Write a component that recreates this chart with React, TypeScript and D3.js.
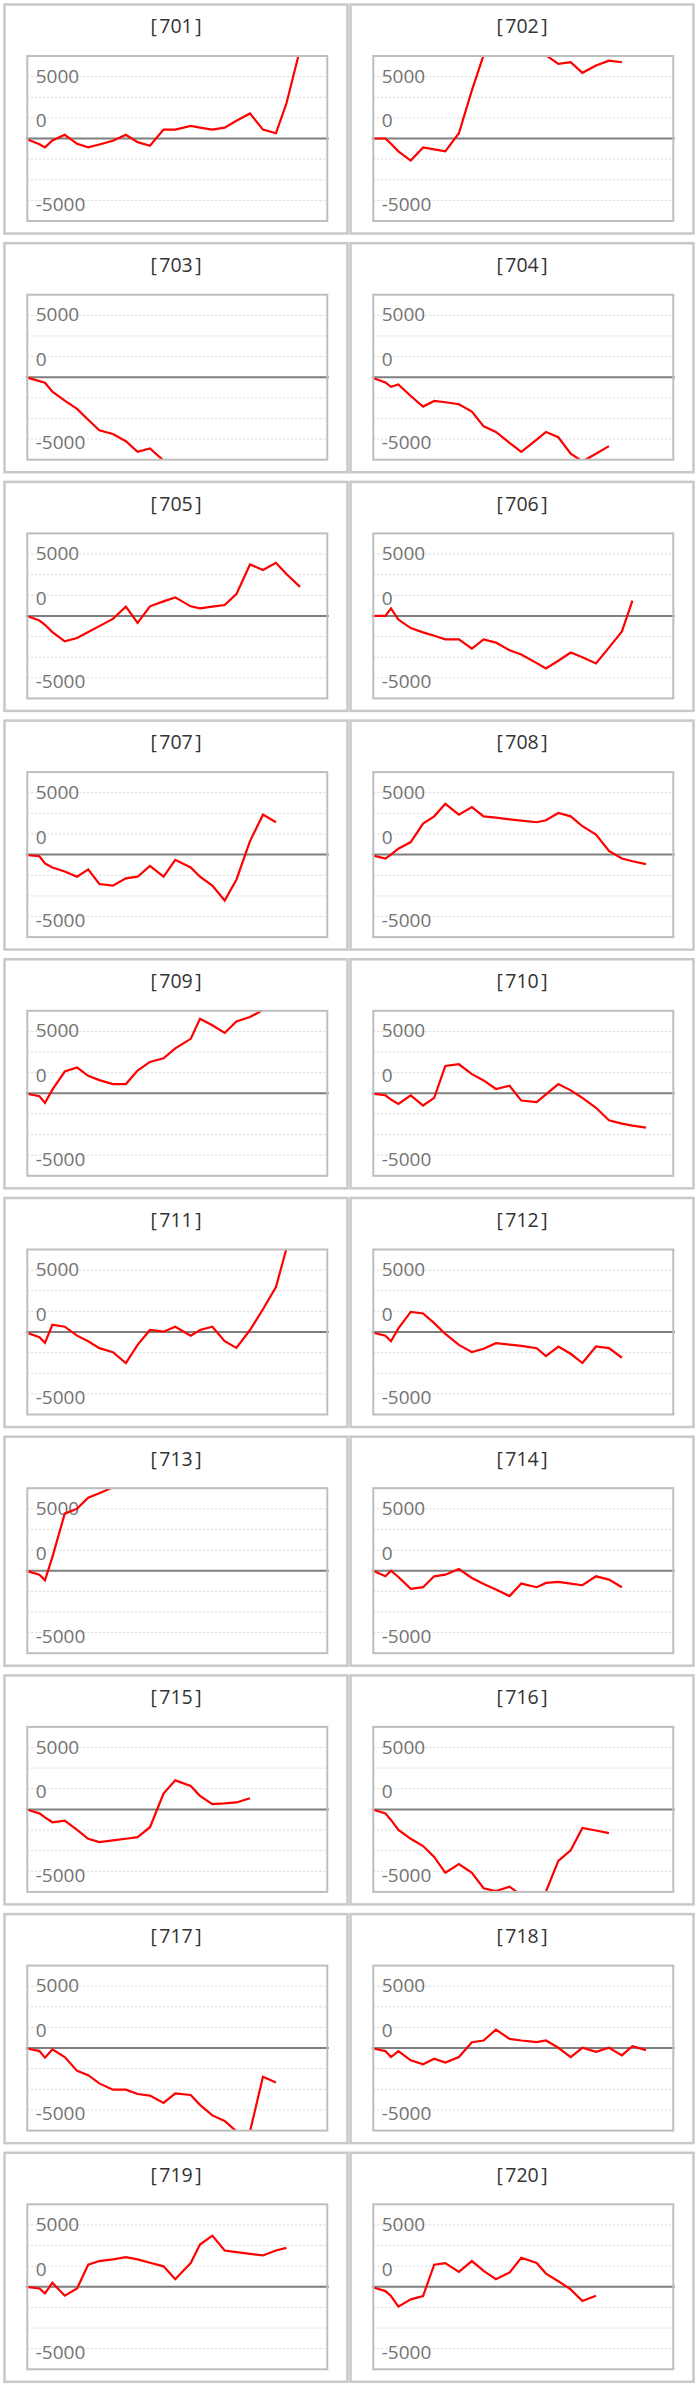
import React from "react";
import * as d3 from "d3";

// ---- data ----
const panelIds = [
  "701", "702", "703", "704", "705", "706", "707", "708", "709", "710",
  "711", "712", "713", "714", "715", "716", "717", "718", "719", "720",
];

// shared x positions of the observations (irregular spacing)
const xPoints = [
  0, 0.9, 1.35, 1.95, 2.95, 3.95, 4.85, 5.75, 6.85, 7.9, 8.85, 9.85,
  10.95, 11.9, 13.15, 13.9, 14.9, 15.9, 16.85, 17.95, 19, 20.05, 20.9, 22,
];

const s701 = [-160, -700, -1080, -240, 440, -640, -1080, -720, -280, 440, -440, -880, 1080, 1080, 1520, 1320, 1080, 1320, 2160, 3040, 1080, 640, 4240, 10800];
const s702 = [0, 0, -640, -1560, -2680, -1080, -1320, -1560, 640, 5840, 10100, 12000, 13500, 13000, 11500, 10100, 9040, 9240, 7960, 8840, 9440, 9240];
const s703 = [-80, -480, -680, -1760, -2840, -3840, -5160, -6440, -6880, -7760, -9040, -8640, -10100];
const s704 = [-160, -640, -1160, -880, -2280, -3560, -2880, -3040, -3280, -4160, -5960, -6640, -7960, -9040, -7560, -6640, -7280, -9280, -10200, -9280, -8360];
const s705 = [-80, -560, -1080, -1960, -3080, -2680, -1960, -1240, -360, 1120, -840, 1160, 1760, 2240, 1160, 920, 1120, 1320, 2640, 6240, 5560, 6440, 5080, 3520];
const s706 = [0, 0, 920, -440, -1480, -2000, -2400, -2840, -2840, -3960, -2840, -3240, -4160, -4680, -5720, -6360, -5440, -4440, -5000, -5760, -3840, -1880, 1840];
const s707 = [-80, -200, -1080, -1560, -2040, -2680, -1800, -3560, -3760, -2880, -2680, -1360, -2680, -640, -1560, -2680, -3760, -5560, -3040, 1640, 4840, 3920];
const s708 = [-160, -480, 0, 720, 1520, 3760, 4640, 6160, 4840, 5760, 4640, 4480, 4280, 4120, 3920, 4160, 5040, 4640, 3440, 2440, 440, -480, -800, -1160];
const s709 = [-80, -360, -1160, 440, 2640, 3120, 2120, 1600, 1120, 1120, 2760, 3800, 4240, 5440, 6600, 9040, 8240, 7320, 8720, 9240, 10100, 12000];
const s710 = [-80, -240, -760, -1280, -240, -1480, -560, 3320, 3520, 2320, 1560, 520, 920, -880, -1080, -120, 1120, 360, -560, -1760, -3280, -3680, -3920, -4160];
const s711 = [-160, -640, -1320, 880, 640, -440, -1120, -1960, -2440, -3760, -1560, 240, 40, 640, -440, 240, 640, -1120, -1920, 240, 2760, 5440, 10100, 14000];
const s712 = [-120, -440, -1120, 440, 2440, 2240, 1080, -240, -1560, -2440, -2040, -1360, -1520, -1680, -1960, -2920, -1760, -2640, -3760, -1760, -1960, -3120];
const s713 = [-80, -480, -1160, 1640, 6920, 7520, 8840, 9400, 10100, 11000];
const s714 = [-80, -680, 0, -760, -2200, -2000, -680, -480, 200, -880, -1600, -2280, -3080, -1560, -2000, -1480, -1360, -1560, -1760, -680, -1080, -2000];
const s715 = [-80, -480, -960, -1560, -1360, -2480, -3560, -3960, -3760, -3560, -3360, -2160, 1920, 3520, 2840, 1640, 640, 720, 840, 1360];
const s716 = [-80, -480, -1280, -2480, -3560, -4440, -5760, -7680, -6640, -7680, -9560, -9900, -9360, -10400, -10800, -9950, -6240, -4960, -2240, -2560, -2880];
const s717 = [-80, -360, -1160, -160, -1080, -2760, -3280, -4280, -5040, -5040, -5560, -5760, -6640, -5480, -5680, -6880, -8160, -8840, -10100, -10100, -3480, -4160];
const s718 = [-80, -360, -1080, -360, -1480, -1960, -1280, -1760, -1080, 720, 920, 2240, 1120, 920, 720, 920, 40, -1080, 40, -440, 40, -880, 240, -240];
const s719 = [-40, -200, -800, 480, -1080, -200, 2680, 3120, 3320, 3600, 3320, 2920, 2480, 920, 2880, 5120, 6200, 4400, 4200, 4000, 3800, 4400, 4720];
const s720 = [-120, -520, -1120, -2400, -1520, -1120, 2680, 2880, 1800, 3120, 1920, 920, 1720, 3520, 2880, 1600, 680, -320, -1720, -1080];

const seriesList = [
  s701, s702, s703, s704, s705, s706, s707, s708, s709, s710,
  s711, s712, s713, s714, s715, s716, s717, s718, s719, s720,
];

const yDomain = [-10000, 10000];
const xDomain = [0, 24.29];
const gridValues = [7500, 5000, 2500, -2500, -5000, -7500];
const yTickLabels = ["5000", "0", "-5000"];
const yTickAt = [7500, 2500, -7500];

// ---- layout ----
const W = 699;
const H = 2387;
const COL_X = [4.5, 350.5];
const ROW_Y0 = 4.5;
const ROW_PITCH = 238.7;
const PANEL_W = 343;
const PANEL_H = 229;
const BOX_DX = 22.8;
const BOX_DY = 51.5;
const BOX_W = 300;
const BOX_H = 165;
const LABEL_DY = [6, 9.6, 10.4];
const FONT = "'Open Sans', 'Noto Sans', sans-serif";

function Panel({ idx }: { idx: number }) {
  const col = idx % 2;
  const row = Math.floor(idx / 2);
  const px = COL_X[col];
  const py = ROW_Y0 + row * ROW_PITCH;
  const bx = px + BOX_DX;
  const by = py + BOX_DY;

  const x = d3.scaleLinear().domain(xDomain).range([bx + 1, bx + 1 + BOX_W]);
  const y = d3.scaleLinear().domain(yDomain).range([by + BOX_H, by]);
  const values = seriesList[idx];
  const pts = values.map((v, i) => [xPoints[i], v] as [number, number]);
  const line = d3
    .line<[number, number]>()
    .x((d) => x(d[0]))
    .y((d) => y(d[1]));
  const clipId = `clip-${panelIds[idx]}`;

  return (
    <g>
      <rect
        x={px}
        y={py}
        width={PANEL_W}
        height={PANEL_H}
        fill="#fff"
        stroke="#c8c8c8"
        strokeWidth={2.5}
      />
      <text
        x={px + PANEL_W / 2}
        y={py + 28.8}
        textAnchor="middle"
        fontFamily={FONT}
        fontSize={19.5}
        fill="#333"
      >
        <tspan>[</tspan>
        <tspan dx={2.5}>{panelIds[idx]}</tspan>
        <tspan dx={2.5}>]</tspan>
      </text>
      <clipPath id={clipId}>
        <rect x={bx} y={by} width={BOX_W} height={BOX_H} />
      </clipPath>
      {gridValues.map((g) => (
        <line
          key={g}
          x1={bx}
          x2={bx + BOX_W}
          y1={y(g)}
          y2={y(g)}
          stroke="#d6d6d6"
          strokeWidth={1}
          strokeDasharray="2,2"
        />
      ))}
      {yTickLabels.map((t, i) => (
        <text
          key={t}
          x={bx + 8.4}
          y={y(yTickAt[i]) + LABEL_DY[i]}
          fontFamily={FONT}
          fontSize={19}
          fill="#737373"
        >
          {t}
        </text>
      ))}
      <line
        x1={bx - 1.5}
        x2={bx + BOX_W + 1.5}
        y1={y(0)}
        y2={y(0)}
        stroke="#7f7f7f"
        strokeWidth={2}
      />
      <path
        d={line(pts) || ""}
        fill="none"
        stroke="#ff0000"
        strokeWidth={2.2}
        strokeLinejoin="miter"
        clipPath={`url(#${clipId})`}
      />
      <rect
        x={bx}
        y={by}
        width={BOX_W}
        height={BOX_H}
        fill="none"
        stroke="#bebebe"
        strokeWidth={2}
      />
    </g>
  );
}

export default function App() {
  return (
    <svg
      width={W}
      height={H}
      viewBox={`0 0 ${W} ${H}`}
      style={{ position: "absolute", left: 0, top: 0, background: "#fff" }}
    >
      {panelIds.map((id, i) => (
        <Panel key={id} idx={i} />
      ))}
    </svg>
  );
}
